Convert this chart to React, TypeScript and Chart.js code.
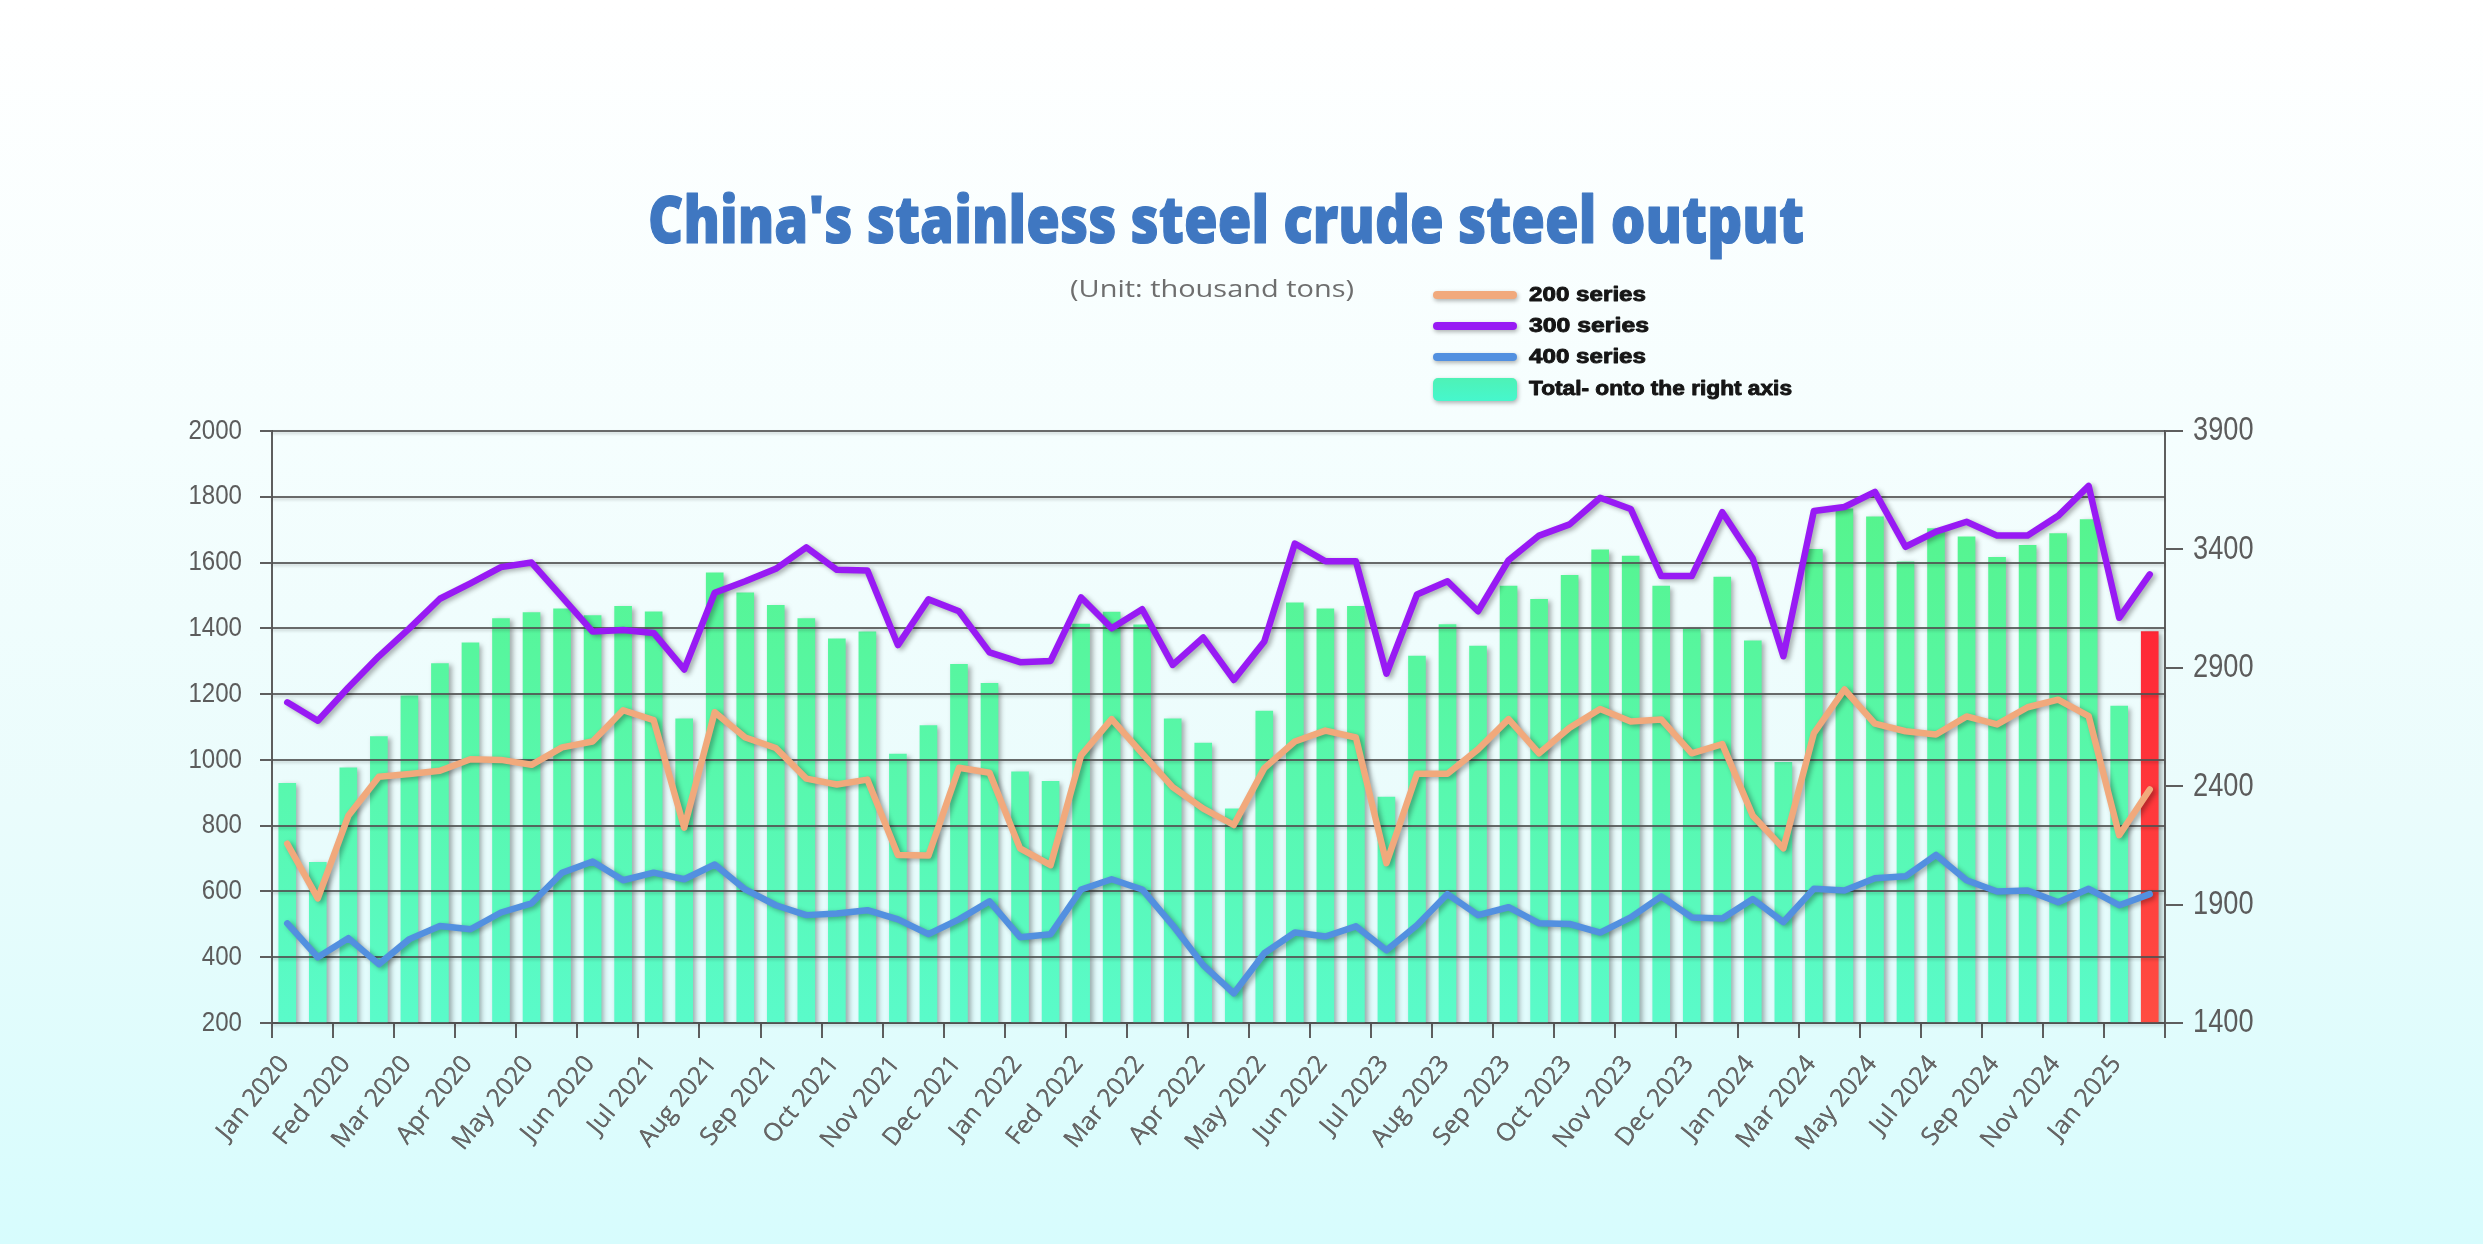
import React, { useEffect, useRef } from 'react';
import { Chart, registerables } from 'chart.js';

Chart.register(...registerables);

const W = 2483;
const H = 1244;

const monthLabels = [
  'Jan 2020', 'Fed 2020', 'Mar 2020', 'Apr 2020', 'May 2020', 'Jun 2020',
  'Jul 2021', 'Aug 2021', 'Sep 2021', 'Oct 2021', 'Nov 2021', 'Dec 2021',
  'Jan 2022', 'Fed 2022', 'Mar 2022', 'Apr 2022', 'May 2022', 'Jun 2022',
  'Jul 2023', 'Aug 2023', 'Sep 2023', 'Oct 2023', 'Nov 2023', 'Dec 2023',
  'Jan 2024', 'Mar 2024', 'May 2024', 'Jul 2024', 'Sep 2024', 'Nov 2024',
  'Jan 2025',
];

// Total output (right axis), thousand tons
const totalOutput = [
  2412, 2078, 2478, 2610, 2782, 2918, 3005, 3108, 3133, 3149,
  3121, 3160, 3136, 2685, 3301, 3217, 3164, 3108, 3022, 3052,
  2536, 2656, 2915, 2834, 2461, 2421, 3085, 3135, 3081, 2685,
  2582, 2304, 2717, 3174, 3149, 3160, 2354, 2950, 3082, 2992,
  3245, 3189, 3290, 3398, 3372, 3245, 3065, 3283, 3014, 2501,
  3400, 3571, 3538, 3348, 3488, 3453, 3367, 3417, 3467, 3526,
  2738, 3053,
];

const series200 = [
  745, 579, 830, 949, 957, 967, 1002, 1000, 985, 1038,
  1056, 1151, 1121, 794, 1145, 1068, 1036, 943, 925, 940,
  711, 709, 976, 961, 731, 680, 1014, 1124, 1020, 917,
  852, 802, 975, 1056, 1089, 1068, 686, 958, 958, 1032,
  1124, 1020, 1098, 1155, 1117, 1123, 1020, 1048, 830, 731,
  1081, 1214, 1110, 1087, 1077, 1132, 1108, 1160, 1183, 1133,
  771, 910,
];

const series300 = [
  1175, 1119, 1220, 1315, 1400, 1490, 1537, 1586, 1600, 1495,
  1390, 1395, 1386, 1275, 1508, 1543, 1581, 1646, 1578, 1576,
  1349, 1488, 1452, 1327, 1297, 1301, 1494, 1400, 1458, 1289,
  1372, 1243, 1360, 1658, 1604, 1604, 1262, 1503, 1543, 1452,
  1607, 1682, 1716, 1797, 1763, 1559, 1559, 1753, 1612, 1315,
  1757, 1769, 1815, 1648, 1694, 1724, 1682, 1682, 1742, 1833,
  1432, 1564,
];

const series400 = [
  503, 400, 458, 379, 455, 495, 485, 536, 564, 657,
  691, 634, 657, 637, 682, 606, 558, 528, 533, 543,
  515, 470, 515, 570, 461, 470, 606, 637, 606, 497,
  376, 290, 412, 475, 463, 494, 421, 497, 592, 528,
  552, 503, 501, 475, 521, 585, 521, 518, 577, 507,
  608, 603, 640, 646, 711, 634, 600, 603, 567, 608,
  558, 592,
];

const leftAxisTicks = [200, 400, 600, 800, 1000, 1200, 1400, 1600, 1800, 2000];
const rightAxisTicks = [1400, 1900, 2400, 2900, 3400, 3900];

const titleText = "China's stainless steel crude steel output";
const unitText = '(Unit: thousand tons)';
const legendNames = ['200 series', '300 series', '400 series', 'Total- onto the right axis'];

const COLOR_200 = '#f1a97c';
const COLOR_300 = '#981af4';
const COLOR_400 = '#5290e0';

const barsPerLabel = totalOutput.length / monthLabels.length;

function drawText(ctx: CanvasRenderingContext2D, text: string, x: number, y: number, font: string,
  color: string, opts: { width?: number; sx?: number; align: 'left' | 'center' | 'right'; stroke?: number }) {
  ctx.save();
  ctx.font = font;
  ctx.fillStyle = color;
  ctx.textAlign = 'left';
  ctx.textBaseline = 'middle';
  const w = ctx.measureText(text).width;
  const s = opts.width ? opts.width / w : (opts.sx ?? 1);
  const drawnW = w * s;
  const left = opts.align === 'center' ? x - drawnW / 2 : opts.align === 'right' ? x - drawnW : x;
  ctx.translate(left, y);
  ctx.scale(s, 1);
  if (opts.stroke) {
    ctx.strokeStyle = color;
    ctx.lineWidth = opts.stroke;
    ctx.lineJoin = 'round';
    ctx.strokeText(text, 0, 0);
  }
  ctx.fillText(text, 0, 0);
  ctx.restore();
}

const decorPlugin = {
  id: 'decor',
  beforeDatasetDraw(chart: any) {
    const ctx = chart.ctx;
    ctx.save();
    ctx.shadowColor = 'rgba(0,0,0,0.32)';
    ctx.shadowBlur = 5;
    ctx.shadowOffsetX = 3;
    ctx.shadowOffsetY = 2;
  },
  afterDatasetDraw(chart: any, args: any) {
    const ctx = chart.ctx;
    ctx.restore();
    if (args.meta.type === 'bar') {
      const area = chart.chartArea;
      const ys = chart.scales.y;
      ctx.save();
      ctx.strokeStyle = 'rgba(80,80,80,0.85)';
      ctx.lineWidth = 2;
      ctx.shadowColor = 'rgba(0,0,0,0.2)';
      ctx.shadowBlur = 3;
      ctx.shadowOffsetY = 2;
      ys.ticks.forEach((t: any) => {
        const py = Math.round(ys.getPixelForValue(t.value));
        ctx.beginPath();
        ctx.moveTo(area.left, py);
        ctx.lineTo(area.right, py);
        ctx.stroke();
      });
      ctx.restore();
    }
  },
  afterDraw(chart: any) {
    const ctx = chart.ctx as CanvasRenderingContext2D;
    const area = chart.chartArea;
    // y-axis labels (narrow digits)
    const ys = chart.scales.y;
    ys.ticks.forEach((t: any) => {
      drawText(ctx, String(t.value), area.left - 30, ys.getPixelForValue(t.value), '28px "Liberation Sans"', '#5c5c5c',
        { sx: 0.86, align: 'right' });
    });
    const yr = chart.scales.y1;
    yr.ticks.forEach((t: any) => {
      drawText(ctx, String(t.value), area.right + 28, yr.getPixelForValue(t.value), '34px "Liberation Sans"', '#5c5c5c',
        { sx: 0.8, align: 'left' });
    });

    // title
    drawText(ctx, titleText, 1226, 224, '800 66px "Open Sans"', '#3f77c1', { width: 1156, align: 'center', stroke: 1.2 });
    drawText(ctx, unitText, 1212, 290, '24px "Open Sans"', '#6e6e6e', { width: 284, align: 'center' });

    // legend
    const lineColors = [COLOR_200, COLOR_300, COLOR_400];
    const rows = [295, 326, 357, 389];
    const textWidths = [117, 120, 117, 263];
    ctx.save();
    ctx.shadowColor = 'rgba(0,0,0,0.3)';
    ctx.shadowBlur = 4;
    ctx.shadowOffsetX = 1;
    ctx.shadowOffsetY = 2;
    lineColors.forEach((c, i) => {
      ctx.strokeStyle = c;
      ctx.lineWidth = 8;
      ctx.lineCap = 'round';
      ctx.beginPath();
      ctx.moveTo(1437, rows[i]);
      ctx.lineTo(1513, rows[i]);
      ctx.stroke();
    });
    const g = ctx.createLinearGradient(0, 378, 0, 400);
    g.addColorStop(0, '#4ef2b6');
    g.addColorStop(1, '#46f7cc');
    ctx.fillStyle = g;
    ctx.beginPath();
    (ctx as any).roundRect(1433, 378, 84, 23, 5);
    ctx.fill();
    ctx.restore();
    legendNames.forEach((name, i) => {
      drawText(ctx, name, 1529, rows[i], 'bold 20px "Liberation Sans"', '#151515',
        { width: textWidths[i], align: 'left', stroke: 0.9 });
    });
  },
};

function barColor(c: any) {
  const chart = c.chart;
  const area = chart.chartArea;
  const isLast = c.dataIndex === totalOutput.length - 1;
  if (!area) return isLast ? '#ff2233' : '#58f6a0';
  const g = chart.ctx.createLinearGradient(0, area.top, 0, area.bottom);
  if (isLast) {
    g.addColorStop(0, '#ff1430');
    g.addColorStop(1, '#ff4d42');
  } else {
    g.addColorStop(0, '#55f384');
    g.addColorStop(1, '#5afbca');
  }
  return g;
}

function lineDataset(label: string, values: number[], color: string) {
  return {
    type: 'line',
    label,
    data: values.map((v, i) => ({ x: i, y: v })),
    borderColor: color,
    borderWidth: 6.5,
    pointRadius: 0,
    tension: 0,
    borderJoinStyle: 'round',
    borderCapStyle: 'round',
    yAxisID: 'y',
    order: 0,
  } as any;
}

export default function App() {
  const canvasRef = useRef<HTMLCanvasElement | null>(null);

  useEffect(() => {
    const canvas = canvasRef.current;
    if (!canvas) return;
    const n = totalOutput.length;
    const xTickValues: number[] = [];
    for (let i = 0; i <= n; i++) {
      xTickValues.push(i - 0.5);
      if (i < n && i % barsPerLabel === 0) xTickValues.push(i - 0.5 + barsPerLabel / 2);
    }
    const isLabelTick = (v: number) => Number.isInteger((v + 0.5 - barsPerLabel / 2) / barsPerLabel);

    const chart = new Chart(canvas, {
      type: 'bar',
      data: {
        datasets: [
          lineDataset('200 series', series200, COLOR_200),
          lineDataset('300 series', series300, COLOR_300),
          lineDataset('400 series', series400, COLOR_400),
          {
            type: 'bar',
            label: 'Total- onto the right axis',
            data: totalOutput.map((v, i) => ({ x: i, y: v })),
            backgroundColor: barColor,
            barThickness: 17,
            yAxisID: 'y1',
            order: 1,
          } as any,
        ],
      },
      options: {
        responsive: false,
        animation: false,
        devicePixelRatio: 1,
        layout: { padding: { top: 431, left: 0, right: 0, bottom: 0 } },
        plugins: {
          legend: { display: false },
          title: { display: false },
          tooltip: { enabled: false },
        },
        scales: {
          x: {
            type: 'linear',
            min: -0.5,
            max: n - 0.5,
            offset: false,
            afterBuildTicks: (scale: any) => {
              scale.ticks = xTickValues.map((v) => ({ value: v }));
            },
            afterFit: (scale: any) => {
              scale.height = H - 1023;
            },
            grid: {
              drawOnChartArea: false,
              drawTicks: true,
              tickLength: 15,
              lineWidth: 2,
              offset: false,
              color: (c: any) => (c.tick && !isLabelTick(c.tick.value) ? '#5e5e5e' : 'rgba(0,0,0,0)'),
            },
            border: { display: true, color: '#5e5e5e', width: 2 },
            ticks: {
              autoSkip: false,
              minRotation: 51,
              maxRotation: 51,
              labelOffset: -18,
              padding: 12,
              color: '#666666',
              font: { family: '"Open Sans", sans-serif', size: 25 },
              callback: (v: any) => {
                const val = Number(v);
                if (!isLabelTick(val)) return '';
                const idx = Math.round((val + 0.5 - barsPerLabel / 2) / barsPerLabel);
                return monthLabels[idx] ?? '';
              },
            },
          },
          y: {
            type: 'linear',
            position: 'left',
            min: leftAxisTicks[0],
            max: leftAxisTicks[leftAxisTicks.length - 1],
            afterBuildTicks: (scale: any) => {
              scale.ticks = leftAxisTicks.map((v) => ({ value: v }));
            },
            afterFit: (scale: any) => {
              scale.width = 272;
            },
            grid: { drawOnChartArea: false, tickLength: 12, lineWidth: 2, color: '#5e5e5e' },
            border: { display: true, color: '#5e5e5e', width: 2 },
            ticks: { display: false },
          },
          y1: {
            type: 'linear',
            position: 'right',
            min: rightAxisTicks[0],
            max: rightAxisTicks[rightAxisTicks.length - 1],
            afterBuildTicks: (scale: any) => {
              scale.ticks = rightAxisTicks.map((v) => ({ value: v }));
            },
            afterFit: (scale: any) => {
              scale.width = W - 2165;
            },
            grid: { drawOnChartArea: false, tickLength: 18, lineWidth: 2, color: '#5e5e5e' },
            border: { display: true, color: '#5e5e5e', width: 2 },
            ticks: { display: false },
          },
        },
      } as any,
      plugins: [decorPlugin as any],
    });
    return () => chart.destroy();
  }, []);

  return (
    <div
      style={{
        position: 'fixed',
        left: 0,
        top: 0,
        width: W,
        height: H,
        background: 'linear-gradient(to bottom, #ffffff 0%, #f5fefe 35%, #eafcfc 65%, #d7fcfd 100%)',
      }}
    >
      <canvas ref={canvasRef} width={W} height={H} style={{ display: 'block', width: W, height: H }} />
    </div>
  );
}
